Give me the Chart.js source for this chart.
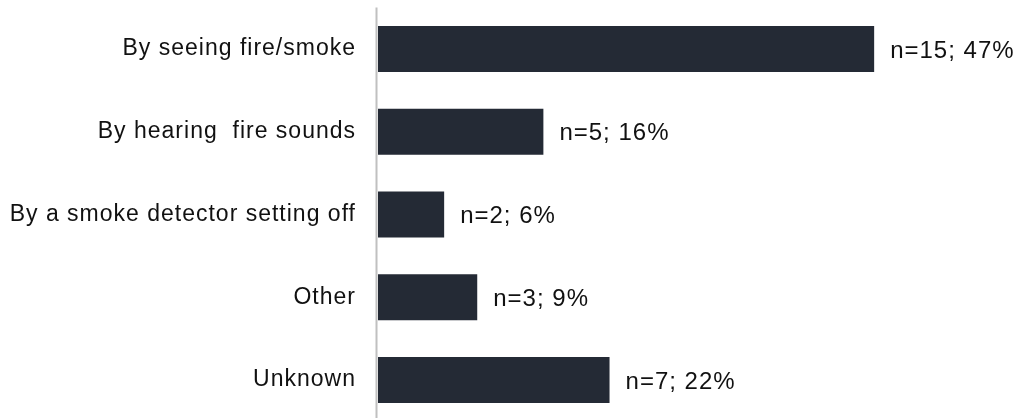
<!DOCTYPE html>
<html>
<head>
<meta charset="utf-8">
<script src="https://cdn.jsdelivr.net/npm/chart.js@4/dist/chart.umd.min.js"></script>
<style>
  html, body { margin: 0; padding: 0; background: #fff; overflow: hidden; }
  #wrap { width: 1023px; height: 424px; }
</style>
</head>
<body>
<div id="wrap"><canvas id="barChart"></canvas></div>
<script>
const categories = [
  "By seeing fire/smoke",
  "By hearing  fire sounds",
  "By a smoke detector setting off",
  "Other",
  "Unknown",
];
const counts = [15, 5, 2, 3, 7];
const total = counts.reduce((a, b) => a + b, 0);

const FONT = "'Liberation Sans', Arial, sans-serif";

// slightly wider tracking for all text on the canvas
const tracking = {
  id: "tracking",
  beforeDraw(chart) {
    chart.ctx.letterSpacing = "1px";
  },
};

// value label after each bar: "n=15; 47%"
const valueLabels = {
  id: "valueLabels",
  afterDatasetsDraw(chart) {
    const ctx = chart.ctx;
    const meta = chart.getDatasetMeta(0);
    ctx.save();
    ctx.letterSpacing = "1px";
    ctx.font = "24px " + FONT;
    ctx.fillStyle = "#111";
    ctx.textAlign = "left";
    ctx.textBaseline = "middle";
    meta.data.forEach((bar, i) => {
      const v = counts[i];
      const pct = Math.round((v / total) * 100);
      ctx.fillText("n=" + v + "; " + pct + "%", bar.x + 16, bar.y + 2);
    });
    ctx.restore();
  },
};

// grey vertical axis line just left of the bars
const axisLine = {
  id: "axisLine",
  afterDatasetsDraw(chart) {
    const { ctx, chartArea } = chart;
    ctx.save();
    ctx.strokeStyle = "#c0c0c0";
    ctx.lineWidth = 2;
    ctx.beginPath();
    ctx.moveTo(chartArea.left - 1.5, chartArea.top);
    ctx.lineTo(chartArea.left - 1.5, chartArea.bottom);
    ctx.stroke();
    ctx.restore();
  },
};

const ctx = document.getElementById("barChart").getContext("2d");
new Chart(ctx, {
  type: "bar",
  data: {
    labels: categories,
    datasets: [
      {
        data: counts,
        backgroundColor: "#242a35",
        barPercentage: 0.556,
        categoryPercentage: 1,
      },
    ],
  },
  options: {
    indexAxis: "y",
    responsive: true,
    maintainAspectRatio: false,
    animation: false,
    layout: { padding: { top: 7.6, bottom: 2.6, left: 0, right: 0 } },
    plugins: {
      legend: { display: false },
      tooltip: { enabled: false },
    },
    scales: {
      x: {
        display: false,
        min: 0,
        max: 19.5,
      },
      y: {
        grid: { display: false, drawTicks: false },
        border: { display: false },
        ticks: {
          color: "#111",
          padding: 22,
          font: { family: FONT, size: 23 },
        },
        afterFit(scale) {
          scale.width = 378;
          scale.paddingTop = 0;
          scale.paddingBottom = 0;
        },
      },
    },
  },
  plugins: [tracking, valueLabels, axisLine],
});
</script>
</body>
</html>
